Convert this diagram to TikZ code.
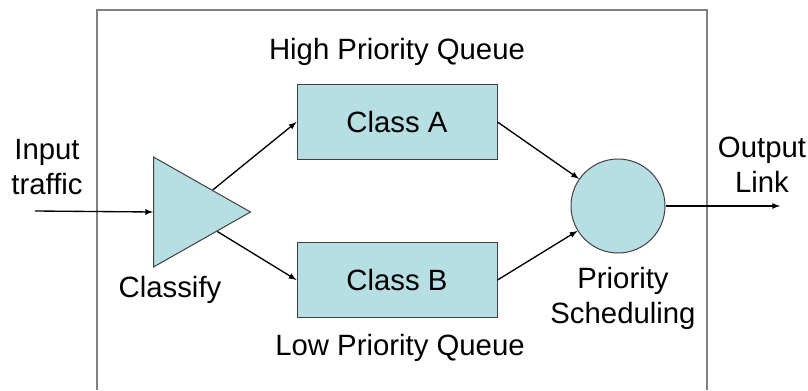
\documentclass[tikz,border=0pt]{standalone}
\usepackage{fontspec}
\setmainfont{Liberation Sans}
\usetikzlibrary{shapes.geometric}

\definecolor{queuefill}{RGB}{183,222,226}
\definecolor{edgegray}{RGB}{64,64,64}
\definecolor{framegray}{RGB}{128,128,128}

\begin{document}
\begin{tikzpicture}[x=0.75pt, y=-0.75pt, >=latex,
    queue/.style={draw=edgegray, fill=queuefill, line width=0.75pt,
        minimum width=150pt, minimum height=56pt, inner sep=0pt},
    lbl/.style={align=center, inner sep=0pt,
        font=\fontsize{22}{26.25}\selectfont},
    link/.style={->, line width=1pt}]
    \useasboundingbox (0,0) rectangle (808,390);

    % open frame round the scheduler
    \draw[framegray, line width=1.5pt] (97,390) -- (97,10) -- (707,10) -- (707,390);

    \coordinate (inlink) at (35,211);
    \coordinate (outlink) at (780,206);

    \node[isosceles triangle, isosceles triangle stretches, draw=edgegray,
        fill=queuefill, line width=0.75pt, inner sep=0pt,
        minimum width=82.5pt, minimum height=72.75pt,
        anchor=lower side] (cls) at (153,212) {};

    \node[queue, lbl] (clsA) at (397,122) {Class A};
    \node[queue, lbl] (clsB) at (397,280) {Class B};
    \node[circle, draw=edgegray, fill=queuefill, line width=0.75pt,
        minimum size=70.5pt, inner sep=0pt] (sched) at (618,206) {};

    \node[lbl] (hiq) at (397,52) {High Priority Queue};
    \node[lbl] (loq) at (400,348) {Low Priority Queue};
    \node[lbl] (input) at (47,167) {Input\\traffic};
    \node[lbl] (classify) at (170,290) {Classify};
    \node[lbl] (output) at (762,165) {Output\\Link};
    \node[lbl] (prio) at (623,298) {Priority\\Scheduling};

    \draw[link] (inlink) -- (cls.lower side);
    \draw[link] (cls) -- (clsA.west);
    \draw[link] (cls) -- (clsB.west);
    \draw[link] (clsA.east) -- (sched);
    \draw[link] (clsB.east) -- (sched);
    \draw[link] (sched.east) -- (outlink);
\end{tikzpicture}
\end{document}
